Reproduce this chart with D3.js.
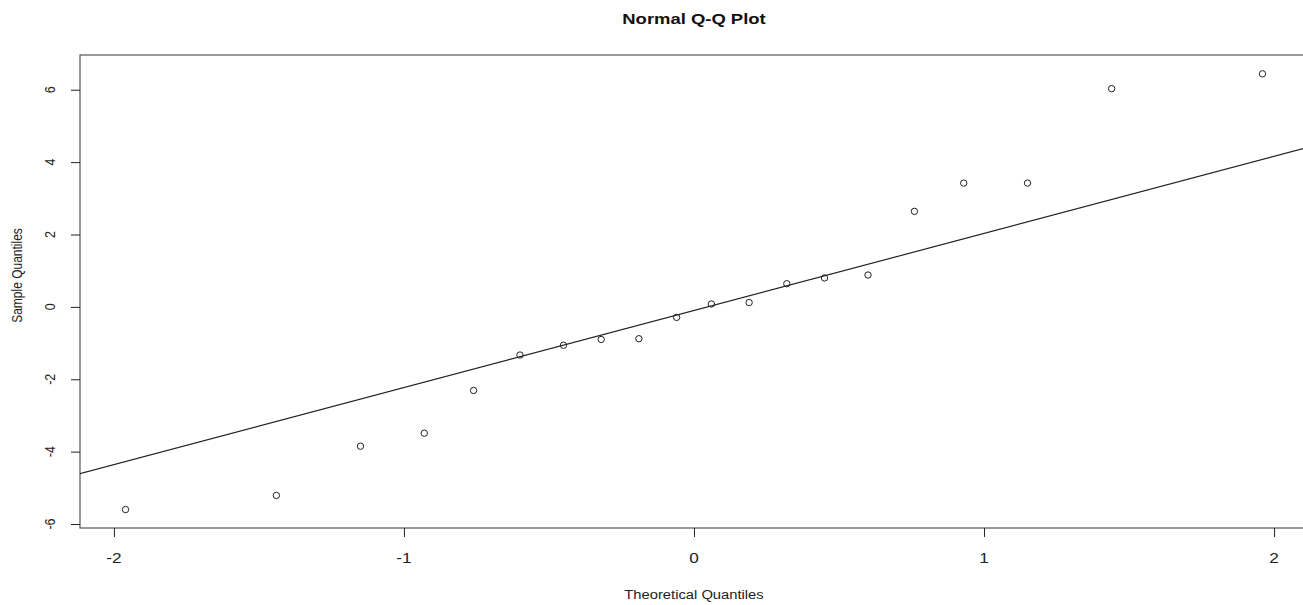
<!DOCTYPE html>
<html>
<head>
<meta charset="utf-8">
<script src="https://cdn.jsdelivr.net/npm/d3@7"></script>
<style>
  body { margin: 0; background: #fff; }
  svg { display: block; font-family: 'Liberation Sans', Arial, sans-serif; }
</style>
</head>
<body>
<script>
/* global d3 */

// theoretical quantiles (x) and sample quantiles (y)
var theoretical = [-1.96, -1.44, -1.15, -0.93, -0.76, -0.60, -0.45, -0.32, -0.19, -0.06,
  0.06, 0.19, 0.32, 0.45, 0.60, 0.76, 0.93, 1.15, 1.44, 1.96]
var sample = [-5.60, -5.21, -3.85, -3.49, -2.31, -1.33, -1.06, -0.90, -0.88, -0.29,
  0.08, 0.12, 0.64, 0.80, 0.88, 2.64, 3.42, 3.42, 6.03, 6.44]
var xTicks = [-2, -1, 0, 1, 2]
var yTicks = [-6, -4, -2, 0, 2, 4, 6]
var qqLine = { intercept: -0.10, slope: 2.13 }

var width = 1303
var height = 605
var box = { left: 80, right: 1308, top: 55, bottom: 528 }
var stretch = 1.23 // the picture is wider than it is tall, text too

var x = d3.scaleLinear().domain([-2.117, 2.117]).range([box.left, box.right])
var y = d3.scaleLinear().domain([-6.11, 6.96]).range([box.bottom, box.top])

// plain hyphen as minus, like the original
function fmt (d) { return String(d) }

var svg = d3.select('body').append('svg')
  .attr('width', width)
  .attr('height', height)

svg.append('defs').append('clipPath')
  .attr('id', 'plotClip')
  .append('rect')
  .attr('x', box.left)
  .attr('y', box.top)
  .attr('width', box.right - box.left)
  .attr('height', box.bottom - box.top)

// frame
svg.append('rect')
  .attr('x', box.left)
  .attr('y', box.top)
  .attr('width', box.right - box.left)
  .attr('height', box.bottom - box.top)
  .style('fill', 'none')
  .style('stroke', '#555')
  .style('stroke-width', 1.2)

// axes, R style: ticks outside, labels parallel to the axis
var xAxis = d3.axisBottom(x).tickValues(xTicks).tickSize(9)
var gx = svg.append('g')
  .attr('transform', 'translate(0,' + box.bottom + ')')
  .call(xAxis)
gx.select('.domain').remove()
gx.selectAll('line').style('stroke', '#222')
gx.selectAll('text').remove()

gx.selectAll('.lbl')
  .data(xTicks)
  .enter().append('text')
  .attr('class', 'lbl')
  .attr('transform', function (d) {
    return 'translate(' + x(d) + ',35) scale(' + stretch + ',1)'
  })
  .attr('text-anchor', 'middle')
  .style('font-size', '14px')
  .style('fill', '#222')
  .text(fmt)

var yAxis = d3.axisLeft(y).tickValues(yTicks).tickSize(9)
var gy = svg.append('g')
  .attr('transform', 'translate(' + box.left + ',0)')
  .call(yAxis)
gy.select('.domain').remove()
gy.selectAll('line').style('stroke', '#222')
gy.selectAll('text').remove()

gy.selectAll('.lbl')
  .data(yTicks)
  .enter().append('text')
  .attr('class', 'lbl')
  .attr('transform', function (d) {
    return 'translate(-25,' + y(d) + ') scale(' + stretch + ',1) rotate(-90)'
  })
  .attr('text-anchor', 'middle')
  .style('font-size', '12.5px')
  .style('fill', '#222')
  .text(fmt)

// reference line
svg.append('line')
  .attr('clip-path', 'url(#plotClip)')
  .attr('x1', x(-2.2))
  .attr('y1', y(qqLine.intercept + qqLine.slope * -2.2))
  .attr('x2', x(2.2))
  .attr('y2', y(qqLine.intercept + qqLine.slope * 2.2))
  .style('stroke', '#222')
  .style('stroke-width', 1.2)

// points
svg.selectAll('circle.pt')
  .data(theoretical)
  .enter().append('circle')
  .attr('class', 'pt')
  .attr('cx', function (d) { return x(d) })
  .attr('cy', function (d, i) { return y(sample[i]) })
  .attr('r', 3.2)
  .style('fill', 'none')
  .style('stroke', '#222')
  .style('stroke-width', 1)

// titles
svg.append('text')
  .attr('transform', 'translate(' + x(0) + ',24) scale(' + stretch + ',1)')
  .attr('text-anchor', 'middle')
  .style('font-size', '15px')
  .style('font-weight', 'bold')
  .style('fill', '#111')
  .text('Normal Q-Q Plot')

svg.append('text')
  .attr('transform', 'translate(' + x(0) + ',599) scale(' + stretch + ',1)')
  .attr('text-anchor', 'middle')
  .style('font-size', '12px')
  .style('fill', '#222')
  .text('Theoretical Quantiles')

svg.append('text')
  .attr('transform', 'translate(22,' + ((box.top + box.bottom) / 2 - 16) + ') scale(' + stretch + ',1) rotate(-90)')
  .attr('text-anchor', 'middle')
  .style('font-size', '12px')
  .style('fill', '#222')
  .text('Sample Quantiles')
</script>
</body>
</html>
